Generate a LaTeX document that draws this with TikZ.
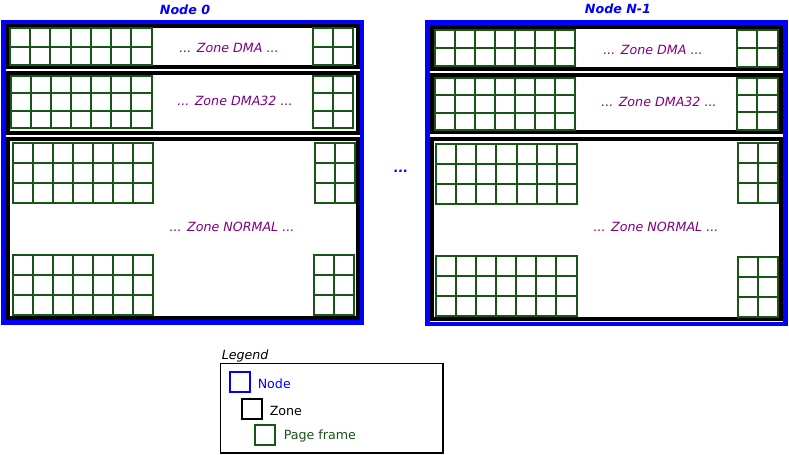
\documentclass[tikz,border=0pt]{standalone}
\usepackage{fontspec}
\setmainfont{DejaVu Sans}
\usetikzlibrary{positioning}

\definecolor{pfgreen}{RGB}{24,86,24}
\definecolor{zonepurple}{RGB}{128,0,128}

\tikzset{
  numanode/.style={draw=blue, line width=3.7pt},
  zonebox/.style={draw=black, line width=3pt},
  pageframe/.style={draw=pfgreen, line width=1.5pt},
  nodetitle/.style={text=blue, font=\fontsize{9.5}{11}\selectfont\bfseries\itshape},
  zonelabel/.style={text=zonepurple, font=\fontsize{9.5}{11}\selectfont\itshape},
  legendtext/.style={anchor=west, inner sep=0pt, font=\fontsize{9.5}{11}\selectfont},
}

% grid of page frames: x0 y0 x1 y1 cols rows
\newcommand{\pagegrid}[6]{%
  \draw[pageframe] (#1,#2) rectangle (#3,#4);
  \foreach \k in {1,...,#5}
    \draw[pageframe] ({#1+\k*(#3-#1)/#5},#2) -- ({#1+\k*(#3-#1)/#5},#4);
  \foreach \k in {1,...,#6}
    \draw[pageframe] (#1,{#2+\k*(#4-#2)/#6}) -- (#3,{#2+\k*(#4-#2)/#6});
}

\begin{document}
\begin{tikzpicture}[x=0.75pt, y=-0.75pt]
\useasboundingbox (0,0) rectangle (789,454);

% Node 0
\draw[numanode] (3.5,22.5) rectangle (362,322.5);
\draw[zonebox] (7.5,25.5) rectangle (357.5,66.5);
\draw[zonebox] (7.5,72.5) rectangle (357.5,133);
\draw[zonebox] (7.5,138.5) rectangle (357.5,318);

\pagegrid{10}{28}{151.5}{65}{7}{2}
\pagegrid{313}{28}{353}{65}{2}{2}
\pagegrid{11}{76}{151.5}{128}{7}{3}
\pagegrid{313}{76}{352.5}{128}{2}{3}
\pagegrid{12.5}{142.5}{153}{203}{7}{3}
\pagegrid{314.5}{142.5}{354.5}{202.5}{2}{3}
\pagegrid{12.5}{254.5}{153}{314.5}{7}{3}
\pagegrid{313.5}{254.5}{354}{315}{2}{3}

\node[nodetitle] (n0title) at (185,9.5) {Node 0};
\node[zonelabel] (n0dma) at (229,48) {... Zone DMA ...};
\node[zonelabel] (n0dma32) at (235,101) {... Zone DMA32 ...};
\node[zonelabel] (n0normal) at (232,226.5) {... Zone NORMAL ...};

% Node N-1
\draw[numanode] (427.5,22.8) rectangle (785.5,324);
\draw[zonebox] (432,27) rectangle (781,68.7);
\draw[zonebox] (432,75) rectangle (781,132);
\draw[zonebox] (432,139) rectangle (781,319);

\pagegrid{434.5}{30}{574.5}{66}{7}{2}
\pagegrid{736.5}{30}{777.5}{66.5}{2}{2}
\pagegrid{434.5}{77.5}{575}{130}{7}{3}
\pagegrid{736.5}{77.5}{777.5}{129.5}{2}{3}
\pagegrid{436}{144}{577}{204}{7}{3}
\pagegrid{737.5}{143}{778}{203}{2}{3}
\pagegrid{436}{256}{576.5}{316}{7}{3}
\pagegrid{737.5}{256.5}{778}{316.5}{2}{3}

\node[nodetitle] (nN1title) at (618,8.5) {Node N-1};
\node[zonelabel] (nN1dma) at (653,50) {... Zone DMA ...};
\node[zonelabel] (nN1dma32) at (659,101.5) {... Zone DMA32 ...};
\node[zonelabel] (nN1normal) at (656,227) {... Zone NORMAL ...};

\node[nodetitle] (gap) at (401,171) {...};

% legend
\node[legendtext, font=\fontsize{9.5}{11}\selectfont\itshape] (legendtitle) at (221.5,356) {Legend};
\draw[line width=1.3pt] (220.5,363.5) rectangle (443,453);
\draw[blue, line width=1.5pt] (230,372) rectangle (250,392);
\draw[black, line width=1.5pt] (242,399) rectangle (262,419);
\draw[pfgreen, line width=1.5pt] (255,425) rectangle (275,445);
\node[legendtext, text=blue] (lgnode) at (257.5,383.5) {Node};
\node[legendtext] (lgzone) at (269.5,410.5) {Zone};
\node[legendtext, text=pfgreen] (lgpage) at (283.5,436) {Page frame};
\end{tikzpicture}
\end{document}
